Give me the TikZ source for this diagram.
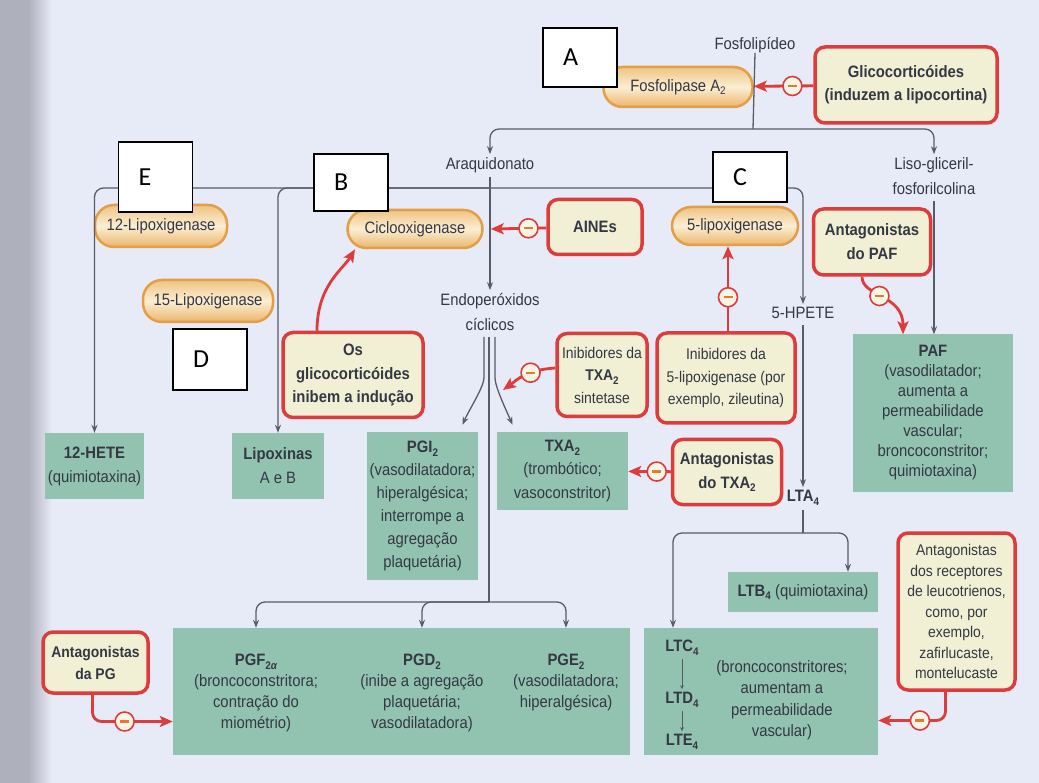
\documentclass[tikz,border=0pt]{standalone}
\usepackage{fontspec}
\setmainfont{Liberation Sans}[FakeStretch=0.9]
\newfontfamily\letterfont{Carlito}
\usetikzlibrary{arrows.meta,positioning}

\definecolor{pagebg}{HTML}{E7EBF7}
\definecolor{stripgray}{HTML}{AEB0BC}
\definecolor{linegray}{HTML}{575C68}
\definecolor{txtgray}{HTML}{343843}
\definecolor{boxgreen}{HTML}{92C3B1}
\definecolor{inred}{HTML}{DE3B3C}
\definecolor{redfill}{HTML}{F1F0D4}
\definecolor{pillfill}{HTML}{F8E2B6}
\definecolor{pilledge}{HTML}{E49E45}
\definecolor{minusbar}{HTML}{E8782F}

\newcommand{\dn}[1]{\raisebox{-0.45ex}{\fontsize{11}{11}\selectfont #1}}
\newcommand{\txtA}[1]{\fontsize{16.5}{#1}\selectfont}
\newcommand{\txtB}[1]{\fontsize{15.5}{#1}\selectfont}

\begin{document}
\begin{tikzpicture}[x=1pt,y=-1pt,>={Stealth[length=8pt,width=6pt]},
  every node/.style={text=txtgray, font=\txtA{22}, align=center, inner sep=0pt},
  pill/.style={draw=pilledge, top color=pilledge!45!pillfill, bottom color=pilledge!65!pillfill,
    middle color=pillfill!60!white, line width=2.5pt, rounded corners=19pt, minimum height=40pt},
  redbox/.style={draw=inred, fill=redfill, line width=3.5pt, rounded corners=10pt},
  greenbox/.style={fill=boxgreen},
  letterbox/.style={draw=black, fill=white, line width=1.2pt, text=black, align=left,
    text width=64pt, inner xsep=5pt, font=\letterfont\fontsize{26}{26}\selectfont},
  line/.style={draw=linegray, line width=1.3pt, rounded corners=9pt},
  conn/.style={line, ->},
  tiny/.style={draw=linegray, line width=0.9pt, -{Stealth[length=4pt,width=4pt]}, shorten >=3pt, shorten <=3pt},
  inhib/.style={draw=inred, line width=2.8pt, rounded corners=9pt, -{Stealth[length=13pt,width=11pt,inset=3pt]}},
  minus/.style={circle, draw=inred, fill=redfill!60!white, line width=1.6pt, minimum size=19pt, inner sep=0pt}]

  \useasboundingbox (0,0) rectangle (1039,783);
  \fill[pagebg] (0,0) rectangle (1039,783);
  \fill[stripgray] (0,0) rectangle (28,783);
  \shade[left color=stripgray, right color=pagebg] (28,0) rectangle (52,783);

  % precursors
  \node (fosfo) at (755,45) {Fosfolipídeo};
  \node[pill, minimum width=149pt] (pla2) at (678,87) {Fosfolipase A\dn{2}};
  \node[redbox, minimum width=182pt, minimum height=76pt, font=\txtA{23}\bfseries] (glico) at (906,85) {Glicocorticóides\\(induzem a lipocortina)};
  \node (araq) at (490,165) {Araquidonato};
  \node[font=\txtA{25}] (liso) at (934,176) {Liso-gliceril-\\fosforilcolina};

  % enzymes
  \node[pill, minimum width=132pt, minimum height=42pt] (lox12) at (161,226) {12-Lipoxigenase};
  \node[pill, minimum width=135pt, minimum height=38pt] (cox) at (415,229) {Ciclooxigenase};
  \node[redbox, minimum width=94pt, minimum height=55pt, font=\txtA{22}\bfseries] (aines) at (595,227) {AINEs};
  \node[pill, minimum width=126pt, minimum height=38pt] (lox5) at (735,226) {5-lipoxigenase};
  \node[redbox, minimum width=117pt, minimum height=66pt, font=\txtA{24}\bfseries] (antpaf) at (872,242) {Antagonistas\\do PAF};
  \node[pill, minimum width=130pt, minimum height=42pt] (lox15) at (208,301) {15-Lipoxigenase};
  \node[font=\txtA{25}] (endo) at (490,312) {Endoperóxidos\\cíclicos};
  \node (hpete) at (803,313) {5-HPETE};

  % drugs
  \node[redbox, minimum width=140pt, minimum height=85pt, font=\txtA{23.5}\bfseries] (glicind) at (353,375) {Os\\glicocorticóides\\inibem a indução};
  \node[redbox, minimum width=90pt, minimum height=83pt, font=\txtB{22.5}] (inbtxa) at (602,375) {Inibidores da\\\textbf{TXA\dn{2}}\\sintetase};
  \node[redbox, minimum width=138pt, minimum height=90pt, font=\txtB{22.5}] (inb5) at (726,378) {Inibidores da\\5-lipoxigenase (por\\exemplo, zileutina)};
  \node[redbox, minimum width=109pt, minimum height=65pt, font=\txtA{24}\bfseries] (anttxa) at (727,472) {Antagonistas\\do TXA\dn{2}};
  \node[redbox, minimum width=105pt, minimum height=61pt, font=\txtB{22}\bfseries] (antpg) at (95.5,662.5) {Antagonistas\\da PG};
  \node[redbox, minimum width=117pt, minimum height=157pt, font=\txtB{20.5}] (antlt) at (956.5,611.5) {Antagonistas\\dos receptores\\de leucotrienos,\\como, por\\exemplo,\\zafirlucaste,\\montelucaste};

  % products
  \node[greenbox, minimum width=160pt, minimum height=157pt, font=\txtA{20}] (paf) at (933,413) {\textbf{PAF}\\(vasodilatador;\\aumenta a\\permeabilidade\\vascular;\\broncoconstritor;\\quimiotaxina)};
  \node[greenbox, minimum width=99pt, minimum height=66pt, font=\txtA{24}] (hete) at (94.5,466) {\textbf{12-HETE}\\(quimiotaxina)};
  \node[greenbox, minimum width=92pt, minimum height=66pt, font=\txtA{24}] (lipox) at (278,466) {\textbf{Lipoxinas}\\A e B};
  \node[greenbox, minimum width=111pt, minimum height=148pt, font=\txtA{23}] (pgi) at (422.5,506) {\textbf{PGI\dn{2}}\\(vasodilatadora;\\hiperalgésica;\\interrompe a\\agregação\\plaquetária)};
  \node[greenbox, minimum width=131pt, minimum height=78pt, font=\txtA{23.5}] (txa) at (562.5,471) {\textbf{TXA\dn{2}}\\(trombótico;\\vasoconstritor)};
  \node[font=\txtA{22}\bfseries] (lta) at (803,498) {LTA\dn{4}};
  \node[greenbox, minimum width=150pt, minimum height=40pt] (ltb) at (803,592) {\textbf{LTB\dn{4}} (quimiotaxina)};
  \node[greenbox, minimum width=234pt, minimum height=127pt] (ltc) at (761,691.5) {};
  \node[font=\txtA{22}\bfseries] (ltc4) at (682,648) {LTC\dn{4}};
  \node[font=\txtA{22}\bfseries] (ltd4) at (682,700) {LTD\dn{4}};
  \node[font=\txtA{22}\bfseries] (lte4) at (682,742) {LTE\dn{4}};
  \node[font=\txtA{21.5}] (lteff) at (782,700) {(broncoconstritores;\\aumentam a\\permeabilidade\\vascular)};
  \node[greenbox, minimum width=457pt, minimum height=127pt] (pgbox) at (401.5,691.5) {};
  \node[anchor=north, font=\txtA{21}] (pgf) at (256,654) {\textbf{PGF\dn{2\itshape α}}\\(broncoconstritora;\\contração do\\miométrio)};
  \node[anchor=north, font=\txtA{21}] (pgd) at (422,654) {\textbf{PGD\dn{2}}\\(inibe a agregação\\plaquetária;\\vasodilatadora)};
  \node[anchor=north, font=\txtA{21}] (pge) at (566,654) {\textbf{PGE\dn{2}}\\(vasodilatadora;\\hiperalgésica)};

  \coordinate (top) at (753,129);
  \coordinate (arsplit) at (490,188);
  \coordinate (ltsplit) at (803,533);
  \coordinate (pgsplit) at (489,602);
  \coordinate (txtip) at (503,390);

  % grey pathway
  \draw[line] (fosfo.south) -- (top);
  \draw[conn] (top) -| ([yshift=3pt]araq.north);
  \draw[conn] (top) -| ([yshift=3pt]liso.north);
  \draw[conn] ([yshift=-4pt]araq.south) -- ([yshift=3pt]endo.north);
  \draw[conn] (arsplit) -| (hete.north);
  \draw[conn] (arsplit) -| (lipox.north);
  \draw[conn] (arsplit) -| ([yshift=3pt]hpete.north);
  \draw[conn] ([yshift=-6pt]liso.south) -- (liso.south |- paf.north);
  \draw[conn] ([yshift=-6pt]hpete.south) -- ([yshift=3pt]lta.north);
  \draw[line] ([yshift=-4pt]lta.south) -- (ltsplit);
  \draw[conn] (ltsplit) -| ([xshift=-88pt]ltc.north);
  \draw[conn] (ltsplit) -| ([xshift=45pt]ltb.north);
  \draw[tiny] (ltc4) -- (ltd4);
  \draw[tiny] (ltd4) -- (lte4);
  \draw[conn] ([xshift=-6pt,yshift=-6pt]endo.south) -- ++(0,32) .. controls +(0,18) and +(6,-14) .. ([xshift=40pt,yshift=7pt]pgi.north);
  \draw[conn] ([xshift=5pt,yshift=-6pt]endo.south) -- ++(0,32) .. controls +(0,18) and +(-6,-14) .. ([xshift=-50pt,yshift=7pt]txa.north);
  \draw[line] ([xshift=-1pt,yshift=-6pt]endo.south) -- (pgsplit);
  \draw[conn] (pgsplit) -| (pgf |- pgbox.north);
  \draw[conn] (pgsplit) -| (pgd |- pgbox.north);
  \draw[conn] (pgsplit) -| (pge |- pgbox.north);

  % inhibitions
  \draw[inhib] (glico) -- (pla2) node[minus, pos=0.35] {\color{minusbar}\rule{9pt}{2.2pt}};
  \draw[inhib] (aines) -- ([xshift=7pt]cox.east) node[minus, pos=0.32] {\color{minusbar}\rule{9pt}{2.2pt}};
  \draw[inhib] ([xshift=-10pt]antpaf.south) .. controls +(0,20) and +(0,-40) .. ([xshift=-30pt]paf.north) node[minus, pos=0.45] {\color{minusbar}\rule{9pt}{2.2pt}};
  \draw[inhib] ([xshift=2pt]inb5.north) -- ([xshift=2pt]inb5.north |- lox5.south) node[minus, pos=0.4] {\color{minusbar}\rule{9pt}{2.2pt}};
  \draw[inhib] ([yshift=7pt]inbtxa.west) .. controls +(-30,2) and +(14,-10) .. (txtip) node[minus, pos=0.35] {\color{minusbar}\rule{9pt}{2.2pt}};
  \draw[inhib] (anttxa) -- (txa) node[minus, pos=0.33] {\color{minusbar}\rule{9pt}{2.2pt}};
  \draw[inhib] ([xshift=-36pt]glicind.north) .. controls +(0,-45) and +(-12,20) .. ([xshift=-60pt]cox.south);
  \draw[inhib] ([xshift=-3pt]antpg.south) |- ([yshift=-30pt]pgbox.west) node[minus, pos=0.7] {\color{minusbar}\rule{9pt}{2.2pt}};
  \draw[inhib] ([xshift=-11pt]antlt.south) |- ([yshift=-29pt]ltc.east) node[minus, pos=0.69] {\color{minusbar}\rule{9pt}{2.2pt}};

  % letters
  \node[letterbox, minimum height=59pt] (la) at (580,57.5) {\hspace*{15pt}A};
  \node[letterbox, minimum height=57pt] (lb) at (351,182.5) {\hspace*{15pt}B};
  \node[letterbox, minimum height=50pt] (lc) at (750,177) {\hspace*{15pt}C};
  \node[letterbox, minimum height=61pt] (ld) at (210,359.5) {\hspace*{15pt}D};
  \node[letterbox, minimum height=70pt] (le) at (155.5,177) {\hspace*{15pt}E};
\end{tikzpicture}
\end{document}
